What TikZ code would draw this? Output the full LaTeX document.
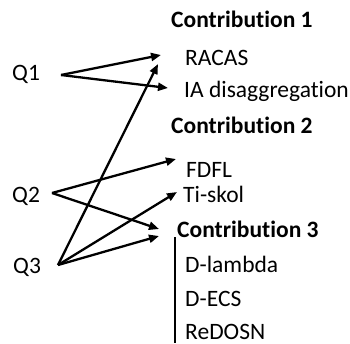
\documentclass[tikz,border=0pt]{standalone}
\usepackage{fontspec}
\setmainfont{Carlito}[Ligatures=NoCommon]
\usetikzlibrary{arrows.meta}
\begin{document}
\begin{tikzpicture}[x=1pt,y=-1pt,
  lbl/.style={anchor=base west,inner sep=0pt,font=\fontsize{23.5}{26}\selectfont},
  head/.style={lbl,font=\fontsize{23.5}{26}\selectfont\bfseries},
  link/.style={line width=2.3pt,-{Triangle[length=10pt,width=8pt]}}]
\useasboundingbox (0,0) rectangle (350,343);
% questions
\node[lbl] (q1) at (12,80) {Q1};
\node[lbl] (q2) at (12,202) {Q2};
\node[lbl] (q3) at (13,273) {Q3};
% contributions
\node[head] (c1) at (171,27) {Contribution 1};
\node[lbl] (racas) at (185,65) {RACAS};
\node[lbl] (ia) at (184,97) {IA disaggregation};
\node[head] (c2) at (171,133) {Contribution 2};
\node[lbl] (fdfl) at (186,177) {FDFL};
\node[lbl] (tiskol) at (183,202) {Ti-skol};
\node[head] (c3) at (177,237) {Contribution 3};
\node[lbl] (dlambda) at (185,272) {D-lambda};
\node[lbl] (decs) at (185,306) {D-ECS};
\node[lbl] (redosn) at (185,339) {ReDOSN};
% arrow origins and targets
\coordinate (o1) at (61,75);
\coordinate (o2) at (52,193);
\coordinate (o3) at (58,265);
\coordinate (tRacas) at (161,55);
\coordinate (tRacasB) at (158,64);
\coordinate (tIa) at (168,88);
\coordinate (tFdfl) at (176,159);
\coordinate (tTiskol) at (177,192);
\coordinate (tC3a) at (159,229);
\coordinate (tC3b) at (159,236);
\coordinate (barTop) at (175,237);
\coordinate (barBot) at (175,343);
% connectors
\draw[link] (o1) -- (tRacas);
\draw[link] (o1) -- (tIa);
\draw[link] (o2) -- (tFdfl);
\draw[link] (o2) -- (tC3a);
\draw[link] (o3) -- (tRacasB);
\draw[link] (o3) -- (tTiskol);
\draw[link] (o3) -- (tC3b);
\draw[line width=2pt] (barTop) -- (barBot);
\end{tikzpicture}
\end{document}
